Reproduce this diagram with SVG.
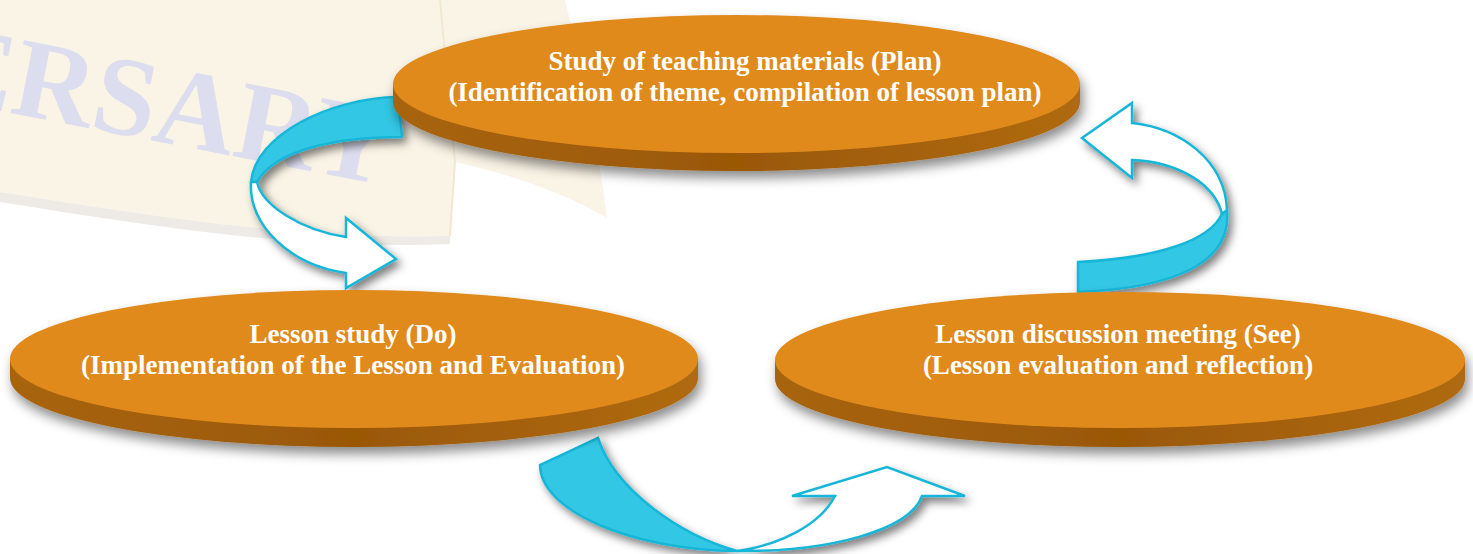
<svg xmlns="http://www.w3.org/2000/svg" width="1473" height="554" viewBox="0 0 1473 554">
<defs>
<style>
.face{fill:#E08A1E}
.side{fill:#9C5A0A}
.lbl{font-family:"Liberation Serif","Times New Roman",serif;font-weight:bold;font-size:27px;fill:#FFFFFF;text-anchor:middle}
.blue{fill:#33C7E4;stroke:#18B6D8;stroke-width:2.5;stroke-linejoin:miter}
.white{fill:#FFFFFF;stroke:#18B6D8;stroke-width:2.5;stroke-linejoin:miter}
.wm{font-family:"Liberation Serif","Times New Roman",serif;font-weight:bold;font-size:113px;fill:#DCDDEE}
</style>
<linearGradient id="sideg" x1="0" y1="0" x2="1" y2="0">
<stop offset="0" stop-color="#A8640E"/>
<stop offset="0.5" stop-color="#9A5806"/>
<stop offset="1" stop-color="#B06A12"/>
</linearGradient>
<filter id="esh" x="-10%" y="-20%" width="120%" height="160%">
<feDropShadow dx="3" dy="7" stdDeviation="6" flood-color="#000" flood-opacity="0.45"/>
</filter>
<filter id="ash" x="-20%" y="-20%" width="150%" height="160%">
<feDropShadow dx="4" dy="5" stdDeviation="4" flood-color="#000" flood-opacity="0.5"/>
</filter>
</defs>
<rect width="1473" height="554" fill="#FFFFFF"/>
<g id="watermark">
<path d="M0,0 L565,0 C585,80 600,160 607,218 C560,190 500,172 455,162 L450,236 C300,240 150,216 0,192 Z" fill="#FAF4E6"/>
<path d="M0,192 C150,216 300,240 450,236 L450,244 C300,250 150,226 0,202 Z" fill="#EEEAE6"/>
<path d="M440,0 L455,162 L450,236" fill="none" stroke="#F1E8D2" stroke-width="2"/>
<text class="wm" transform="translate(-66,98) rotate(11)">ERSARY</text>
</g>
<g id="connectors" filter="url(#ash)">
<g id="arrow-plan-do">
<path class="blue" d="M398,97 C330,98 255,135 251,182 L257,182 C275,150 335,137 402,137 Z"/>
<path class="white" d="M251,182 C248,225 290,265 346,273 L346,288 L396,259 L346,218 L346,237 C300,230 262,205 257,182 Z"/>
</g>
<g id="arrow-see-plan">
<path class="blue" d="M1227,210 C1232,260 1180,288 1078,292 L1078,262 C1160,258 1210,240 1222,214 Z"/>
<path class="white" d="M1082,138 L1132,103 L1132,123 C1180,128 1225,160 1227,210 L1222,214 C1215,185 1180,162 1132,160 L1132,178 Z"/>
</g>
<g id="arrow-do-see">
<path class="blue" d="M598,438 L540,465 C540,510 630,550 737,551 C680,535 615,490 598,438 Z"/>
<path class="white" d="M737,551 C830,552 910,530 922,496 L965,496 L887,467 L792,496 L835,496 C820,525 780,545 737,551 Z"/>
</g>
</g>
<g id="node-plan" filter="url(#esh)">
<ellipse cx="736.5" cy="102" rx="343.5" ry="69" fill="url(#sideg)"/>
<rect x="393" y="84" width="687" height="18" fill="url(#sideg)"/>
<ellipse class="face" cx="736.5" cy="84" rx="343.5" ry="69"/>
</g>
<g id="node-plan-text">
<text class="lbl" x="745" y="70">Study of teaching materials (Plan)</text>
<text class="lbl" x="745" y="101">(Identification of theme, compilation of lesson plan)</text>
</g>
<g id="node-do" filter="url(#esh)">
<ellipse cx="354" cy="378" rx="344" ry="69" fill="url(#sideg)"/>
<rect x="10" y="359" width="688" height="19" fill="url(#sideg)"/>
<ellipse class="face" cx="354" cy="359" rx="344" ry="69"/>
</g>
<g id="node-do-text">
<text class="lbl" x="353" y="343">Lesson study (Do)</text>
<text class="lbl" x="353" y="374">(Implementation of the Lesson and Evaluation)</text>
</g>
<g id="node-see" filter="url(#esh)">
<ellipse cx="1120" cy="379" rx="345" ry="68" fill="url(#sideg)"/>
<rect x="775" y="360" width="690" height="19" fill="url(#sideg)"/>
<ellipse class="face" cx="1120" cy="360" rx="345" ry="68"/>
</g>
<g id="node-see-text">
<text class="lbl" x="1118" y="343">Lesson discussion meeting (See)</text>
<text class="lbl" x="1118" y="374">(Lesson evaluation and reflection)</text>
</g>
</svg>
